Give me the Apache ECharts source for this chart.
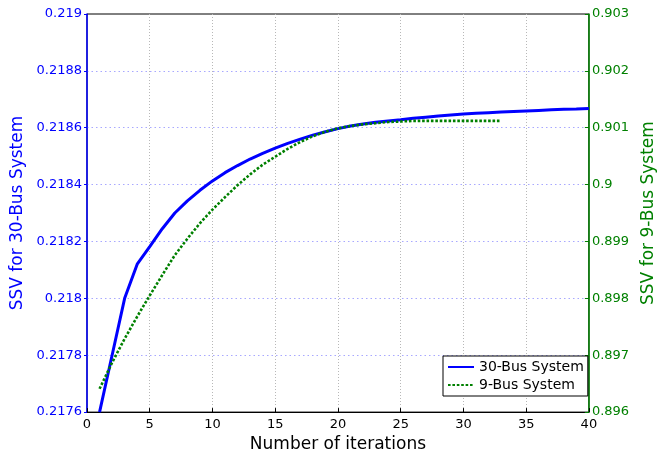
<!DOCTYPE html>
<html>
<head>
<meta charset="utf-8">
<script src="https://cdn.jsdelivr.net/npm/echarts@6/dist/echarts.min.js"></script>
<style>
  html, body { margin: 0; padding: 0; background: #fff; }
  #chart { width: 665px; height: 458px; }
</style>
</head>
<body>
<div id="chart"></div>
<script>
// iterations
var iter30 = [1,2,3,4,5,6,7,8,9,10,11,12,13,14,15,16,17,18,19,20,21,22,23,24,25,26,27,28,29,30,31,32,33,34,35,36,37,38,39,40];
var iter9 = [1,2,3,4,5,6,7,8,9,10,11,12,13,14,15,16,17,18,19,20,21,22,23,24,25,26,27,28,29,30,31,32,33];

// SSV values
var ssv30 = [0.21760,0.21780,0.21800,0.21812,0.218182,0.218245,0.21830,0.218343,0.21838,0.218413,
             0.218442,0.218467,0.21849,0.21851,0.218528,0.218545,0.21856,0.218574,0.218586,0.218597,
             0.218606,0.218613,0.218619,0.218624,0.218628,0.218633,0.218637,0.218641,0.218645,0.218648,
             0.218651,0.218653,0.218655,0.218657,0.218659,0.218661,0.218663,0.218665,0.218666,0.218668];
var ssv9 = [0.89641,0.89687,0.89729,0.89768,0.89805,0.89841,0.89876,0.89905,0.89932,0.89956,
            0.89978,0.89999,0.90018,0.90035,0.90049,0.90063,0.90075,0.90085,0.90093,0.90099,
            0.90103,0.90106,0.90108,0.90110,0.90111,0.90112,0.90112,0.90112,0.90112,0.90112,
            0.90112,0.90112,0.90112];

var seriesNames = ['30-Bus System', '9-Bus System'];
var axisNames = { x: 'Number of iterations', left: 'SSV for 30-Bus System', right: 'SSV for 9-Bus System' };

var blue = '#0000ff';
var green = '#008000';
var font = 'DejaVu Sans';

function pairs(xs, ys) {
    var out = [];
    for (var i = 0; i < xs.length; i++) out.push([xs[i], ys[i]]);
    return out;
}

var myChart = echarts.init(document.getElementById('chart'), null, { renderer: 'canvas' });

var option = {
    animation: false,
    backgroundColor: '#fff',
    textStyle: { fontFamily: font },
    grid: {
        left: 87, right: 74, top: 14, bottom: 41,
        show: true, borderColor: '#000', borderWidth: 1, backgroundColor: 'transparent'
    },
    legend: {
        orient: 'vertical',
        left: 443, top: 356,
        padding: [4, 4, 4, 4],
        itemGap: 4,
        itemWidth: 26,
        itemHeight: 14,
        // line only, no marker in the legend key
        itemStyle: { color: 'transparent', borderWidth: 0, opacity: 0 },
        backgroundColor: '#fff',
        borderColor: '#000',
        borderWidth: 1,
        borderRadius: 0,
        textStyle: { fontFamily: font, fontSize: 14, color: '#000' },
        data: seriesNames
    },
    xAxis: {
        type: 'value',
        min: 0, max: 40, interval: 5,
        name: axisNames.x,
        nameLocation: 'middle',
        nameGap: 19,
        nameTextStyle: { fontFamily: font, fontSize: 17, color: '#000' },
        axisLine: { lineStyle: { color: '#000', width: 1 } },
        axisTick: { inside: true, length: 4, lineStyle: { color: '#000' } },
        axisLabel: { fontFamily: font, fontSize: 13, color: '#000', margin: 6 },
        splitLine: { show: true, showMinLine: false, showMaxLine: false,
                     lineStyle: { color: '#b8b8b8', type: [1, 2], width: 1 } }
    },
    yAxis: [{
        type: 'value',
        position: 'left',
        min: 0.2176, max: 0.219, interval: 0.0002,
        name: axisNames.left,
        nameLocation: 'middle',
        nameGap: 57,
        nameTextStyle: { fontFamily: font, fontSize: 17, color: blue },
        axisLine: { show: true, lineStyle: { color: blue, width: 1.5 } },
        axisTick: { show: true, length: 3, lineStyle: { color: blue } },
        axisLabel: {
            fontFamily: font, fontSize: 13, color: blue, margin: 5,
            formatter: function (v) { return String(+v.toFixed(4)); }
        },
        splitLine: { show: true, showMinLine: false, showMaxLine: false,
                     lineStyle: { color: '#a8a8ff', type: [1.5, 3], width: 1 } }
    }, {
        type: 'value',
        position: 'right',
        min: 0.896, max: 0.903, interval: 0.001,
        name: axisNames.right,
        nameLocation: 'middle',
        nameGap: 48,
        nameRotate: 90,
        nameTextStyle: { fontFamily: font, fontSize: 17, color: green },
        axisLine: { show: true, lineStyle: { color: green, width: 1.5 } },
        axisTick: { show: true, inside: true, length: 4, lineStyle: { color: green } },
        axisLabel: {
            fontFamily: font, fontSize: 13, color: green, margin: 3,
            formatter: function (v) { return String(+v.toFixed(3)); }
        },
        splitLine: { show: false }
    }],
    series: [{
        name: seriesNames[0],
        type: 'line',
        yAxisIndex: 0,
        symbol: 'none',
        data: pairs(iter30, ssv30),
        lineStyle: { color: blue, width: 3 },
        itemStyle: { color: blue },
        z: 3
    }, {
        name: seriesNames[1],
        type: 'line',
        yAxisIndex: 1,
        symbol: 'none',
        data: pairs(iter9, ssv9),
        lineStyle: { color: green, width: 2.6, type: [2.6, 1.8] },
        itemStyle: { color: green },
        z: 4
    }]
};

myChart.setOption(option);
</script>
</body>
</html>
